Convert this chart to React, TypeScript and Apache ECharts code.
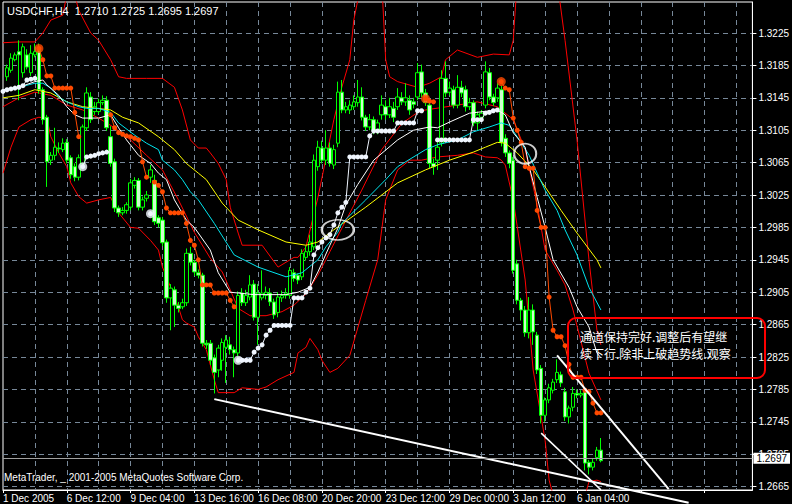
import React, { useEffect, useRef } from "react";
import * as echarts from "echarts";

// ---------- data ----------
const symbolName = "USDCHF";
const periodName = "H4";
const tickLabels = [
  "1 Dec 2005", "6 Dec 12:00", "9 Dec 04:00", "13 Dec 16:00", "16 Dec 08:00",
  "20 Dec 20:00", "23 Dec 12:00", "29 Dec 00:00", "3 Jan 12:00", "6 Jan 04:00",
];
const barsPerLabel = 16;
const slotCount = 189;
const firstBar = 1;
const priceTicks = [
  1.2665, 1.2705, 1.2745, 1.2785, 1.2825, 1.2865, 1.2905, 1.2945,
  1.2985, 1.3025, 1.3065, 1.3105, 1.3145, 1.3185, 1.3225,
];
const priceMin = 1.26608;
const priceMax = 1.32633;

const opens = [
  1.3171,1.3179,1.3192,1.3202,1.3176,1.3198,1.3176,1.3198,1.3204,1.3155,
  1.3121,1.3068,1.3074,1.3083,1.3081,1.3090,1.3071,1.3060,1.3047,1.3064,
  1.3108,1.3146,1.3128,1.3128,1.3139,1.3142,1.3097,1.3066,1.3009,1.3003,
  1.3006,1.3010,1.3037,1.3043,1.3010,1.3021,1.3047,1.3043,1.2997,1.2994,
  1.2967,1.2898,1.2908,1.2889,1.2887,1.2892,1.2953,1.2942,1.2929,1.2926,
  1.2842,1.2842,1.2824,1.2809,1.2821,1.2837,1.2840,1.2834,1.2830,1.2904,
  1.2892,1.2899,1.2915,1.2874,1.2898,1.2901,1.2904,1.2893,1.2880,1.2898,
  1.2901,1.2901,1.2929,1.2926,1.2924,1.2948,1.2955,1.2961,1.3060,1.3083,
  1.3068,1.3083,1.3062,1.3089,1.3152,1.3130,1.3130,1.3134,1.3139,1.3146,
  1.3121,1.3109,1.3118,1.3105,1.3124,1.3134,1.3124,1.3132,1.3134,1.3145,
  1.3140,1.3142,1.3140,1.3146,1.3177,1.3151,1.3136,1.3064,1.3068,1.3089,
  1.3169,1.3152,1.3155,1.3136,1.3158,1.3155,1.3134,1.3139,1.3114,1.3121,
  1.3136,1.3176,1.3146,1.3145,1.3155,1.3095,1.3077,1.3068,1.2940,1.2895,
  1.2883,1.2855,1.2883,1.2852,1.2811,1.2753,1.2772,1.2784,1.2797,1.2803,
  1.2782,1.2751,1.2763,1.2780,1.2778,1.2782,1.2695,1.2689,1.2701,1.2710,
];
const closes = [
  1.3182,1.3194,1.3198,1.3198,1.3208,1.3183,1.3200,1.3202,1.3155,1.3118,
  1.3066,1.3074,1.3084,1.3082,1.3089,1.3068,1.3050,1.3047,1.3071,1.3109,
  1.3151,1.3118,1.3134,1.3139,1.3142,1.3108,1.3064,1.3009,1.3003,1.3006,
  1.3013,1.3040,1.3043,1.3010,1.3019,1.3025,1.3056,1.2992,1.2990,1.2966,
  1.2898,1.2910,1.2889,1.2885,1.2892,1.2953,1.2942,1.2930,1.2926,1.2842,
  1.2840,1.2821,1.2806,1.2836,1.2843,1.2846,1.2834,1.2830,1.2901,1.2892,
  1.2901,1.2914,1.2874,1.2904,1.2904,1.2905,1.2893,1.2877,1.2899,1.2901,
  1.2904,1.2932,1.2922,1.2920,1.2953,1.2955,1.2967,1.3068,1.3084,1.3068,
  1.3083,1.3064,1.3081,1.3152,1.3130,1.3134,1.3136,1.3140,1.3146,1.3121,
  1.3109,1.3118,1.3105,1.3114,1.3136,1.3124,1.3134,1.3121,1.3146,1.3140,
  1.3145,1.3130,1.3137,1.3176,1.3151,1.3139,1.3064,1.3060,1.3084,1.3169,
  1.3151,1.3157,1.3136,1.3158,1.3151,1.3134,1.3139,1.3114,1.3124,1.3126,
  1.3177,1.3146,1.3139,1.3157,1.3090,1.3077,1.3064,1.2932,1.2895,1.2883,
  1.2855,1.2883,1.2856,1.2809,1.2753,1.2772,1.2787,1.2794,1.2806,1.2793,
  1.2751,1.2762,1.2780,1.2778,1.2780,1.2694,1.2689,1.2695,1.2710,1.2697,
];
const lows = [
  1.3166,1.3176,1.3190,1.3142,1.3170,1.3180,1.3172,1.3195,1.3150,1.3112,
  1.3035,1.3062,1.3068,1.3077,1.3078,1.3064,1.3045,1.3042,1.3043,1.3060,
  1.3104,1.3114,1.3124,1.3125,1.3136,1.3104,1.3060,1.3004,1.2998,1.3000,
  1.3002,1.3006,1.3033,1.3006,1.3006,1.3017,1.3040,1.2988,1.2985,1.2962,
  1.2892,1.2858,1.2862,1.2880,1.2884,1.2888,1.2938,1.2925,1.2922,1.2838,
  1.2835,1.2815,1.2780,1.2800,1.2808,1.2793,1.2828,1.2800,1.2826,1.2888,
  1.2888,1.2895,1.2870,1.2840,1.2895,1.2896,1.2888,1.2872,1.2874,1.2893,
  1.2897,1.2897,1.2918,1.2915,1.2920,1.2944,1.2950,1.2957,1.3055,1.3064,
  1.3062,1.3060,1.3057,1.3084,1.3126,1.3126,1.3125,1.3130,1.3134,1.3117,
  1.3104,1.3105,1.3100,1.3100,1.3118,1.3118,1.3120,1.3115,1.3130,1.3136,
  1.3135,1.3124,1.3132,1.3142,1.3146,1.3135,1.3058,1.3050,1.3056,1.3085,
  1.3146,1.3148,1.3132,1.3132,1.3146,1.3128,1.3130,1.3110,1.3105,1.3117,
  1.3132,1.3142,1.3135,1.3140,1.3085,1.3072,1.3058,1.2928,1.2890,1.2870,
  1.2850,1.2848,1.2840,1.2804,1.2743,1.2745,1.2768,1.2780,1.2793,1.2788,
  1.2746,1.2743,1.2758,1.2774,1.2775,1.2685,1.2680,1.2685,1.2697,1.2695,
];
const highs = [
  1.3186,1.3200,1.3201,1.3216,1.3212,1.3205,1.3210,1.3212,1.3212,1.3158,
  1.3124,1.3078,1.3108,1.3090,1.3095,1.3094,1.3074,1.3064,1.3075,1.3112,
  1.3158,1.3152,1.3140,1.3144,1.3148,1.3147,1.3110,1.3070,1.3012,1.3010,
  1.3016,1.3045,1.3047,1.3046,1.3023,1.3030,1.3062,1.3050,1.3000,1.2998,
  1.2970,1.2915,1.2912,1.2893,1.2897,1.2959,1.2961,1.2945,1.2933,1.2929,
  1.2846,1.2846,1.2828,1.2840,1.2848,1.2852,1.2850,1.2838,1.2906,1.2910,
  1.2908,1.2926,1.2920,1.2915,1.2932,1.2912,1.2910,1.2897,1.2905,1.2907,
  1.2910,1.2936,1.2934,1.2928,1.2958,1.2962,1.2976,1.3075,1.3092,1.3092,
  1.3105,1.3090,1.3087,1.3165,1.3167,1.3140,1.3142,1.3148,1.3167,1.3158,
  1.3124,1.3125,1.3122,1.3118,1.3148,1.3142,1.3145,1.3140,1.3157,1.3152,
  1.3163,1.3148,1.3145,1.3188,1.3186,1.3156,1.3140,1.3070,1.3090,1.3179,
  1.3190,1.3165,1.3160,1.3173,1.3166,1.3160,1.3145,1.3142,1.3128,1.3130,
  1.3190,1.3182,1.3150,1.3163,1.3160,1.3100,1.3080,1.3072,1.2945,1.2898,
  1.2888,1.2899,1.2890,1.2856,1.2815,1.2775,1.2792,1.2798,1.2822,1.2807,
  1.2787,1.2765,1.2788,1.2785,1.2784,1.2786,1.2698,1.2700,1.2714,1.2725,
];

// moving averages  [bar, price]
const maWhite = [[0,1.3155],[4,1.3158],[8,1.3165],[10,1.3167],[11,1.3161],[14,1.3148],[16,1.3134],[18,1.3124],[20,1.3120],[24,1.3120],[27,1.3124],[29,1.3108],[31,1.3093],[34,1.3074],[37,1.3064],[39,1.3052],[41,1.3044],[43,1.3019],[46,1.2994],[48,1.2985],[52,1.2957],[54,1.2929],[57,1.2905],[59,1.2904],[63,1.2902],[71,1.2902],[74,1.2905],[77,1.2911],[79,1.2930],[82,1.2963],[84,1.2984],[86,1.3013],[89,1.3038],[93,1.3068],[99,1.3093],[103,1.3105],[107,1.3109],[109,1.3108],[112,1.3115],[117,1.3126],[124,1.3130],[126,1.3124],[128,1.3102],[131,1.3084],[132,1.3060],[134,1.3022],[136,1.2985],[138,1.2945],[142,1.2911],[144,1.2887],[147,1.2862],[149,1.2830],[150,1.2824]];
const maCyan = [[0,1.3155],[4,1.3158],[8,1.3163],[10,1.3163],[12,1.3157],[14,1.3146],[16,1.3140],[19,1.3134],[21,1.3132],[24,1.3132],[27,1.3127],[29,1.3114],[33,1.3099],[36,1.3089],[39,1.3081],[40,1.3068],[43,1.3056],[45,1.3044],[47,1.3029],[49,1.3019],[53,1.2990],[58,1.2951],[64,1.2936],[71,1.2924],[75,1.2929],[79,1.2945],[81,1.2961],[84,1.2979],[85,1.2990],[91,1.3019],[96,1.3044],[99,1.3060],[106,1.3081],[109,1.3087],[114,1.3093],[118,1.3103],[122,1.3109],[125,1.3114],[127,1.3111],[129,1.3097],[132,1.3074],[134,1.3052],[136,1.3031],[139,1.3006],[141,1.2982],[144,1.2951],[147,1.2911],[150,1.2883]];
const maYellow = [[0,1.3145],[4,1.3148],[8,1.3155],[12,1.3151],[16,1.3140],[20,1.3134],[27,1.3130],[30,1.3121],[34,1.3114],[39,1.3097],[43,1.3081],[46,1.3064],[49,1.3052],[51,1.3044],[55,1.3015],[59,1.2994],[64,1.2982],[71,1.2967],[76,1.2963],[79,1.2967],[83,1.2982],[91,1.3010],[99,1.3040],[106,1.3056],[112,1.3068],[118,1.3078],[121,1.3084],[124,1.3090],[126,1.3089],[129,1.3077],[133,1.3056],[136,1.3035],[140,1.3006],[144,1.2978],[149,1.2945],[150,1.2935]];

// bollinger bands
const bbUpper = [[0,1.3213],[4,1.3214],[8,1.3214],[10,1.3225],[12,1.3241],[15,1.3247],[16,1.3272],[18,1.3272],[19,1.3253],[22,1.3225],[24,1.3216],[27,1.3192],[29,1.3171],[31,1.3169],[36,1.3169],[40,1.3169],[43,1.3158],[45,1.3130],[47,1.3093],[49,1.3083],[51,1.3083],[52,1.3077],[54,1.3064],[56,1.3044],[57,1.3010],[59,1.2978],[60,1.2963],[65,1.2963],[69,1.2936],[73,1.2948],[74,1.2948],[76,1.2961],[79,1.3022],[83,1.3118],[85,1.3158],[87,1.3192],[88,1.3241],[90,1.3290],[95,1.3290],[96,1.3192],[97,1.3171],[99,1.3165],[104,1.3158],[107,1.3163],[110,1.3171],[111,1.3192],[114,1.3204],[119,1.3195],[123,1.3199],[127,1.3198],[128,1.3216],[129,1.3290],[139,1.3290],[141,1.3216],[144,1.3093],[147,1.2945],[149,1.2858],[150,1.2840]];
const bbMiddle = [[0,1.3134],[4,1.3145],[8,1.3152],[12,1.3148],[16,1.3136],[20,1.3130],[24,1.3120],[28,1.3108],[32,1.3093],[36,1.3074],[40,1.3056],[44,1.3019],[48,1.2979],[52,1.2947],[55,1.2930],[57,1.2908],[59,1.2885],[62,1.2876],[66,1.2876],[70,1.2881],[73,1.2889],[76,1.2903],[79,1.2926],[82,1.2955],[85,1.2984],[90,1.3031],[95,1.3081],[100,1.3113],[104,1.3127],[106,1.3130],[114,1.3136],[119,1.3140],[124,1.3134],[128,1.3118],[131,1.3081],[134,1.3013],[136,1.2957],[139,1.2932],[141,1.2914],[143,1.2883],[147,1.2805],[150,1.2772]];
const bbLower = [[0,1.3052],[2,1.3084],[4,1.3109],[7,1.3118],[9,1.3121],[11,1.3120],[12,1.3097],[14,1.3077],[16,1.3060],[17,1.3040],[19,1.3023],[21,1.3015],[24,1.3019],[27,1.3022],[29,1.3003],[32,1.2985],[34,1.2984],[37,1.2969],[39,1.2957],[40,1.2936],[41,1.2924],[44,1.2887],[45,1.2871],[46,1.2867],[48,1.2862],[49,1.2850],[51,1.2834],[53,1.2797],[54,1.2781],[58,1.2781],[60,1.2787],[64,1.2785],[66,1.2788],[69,1.2797],[73,1.2806],[74,1.2830],[76,1.2837],[77,1.2848],[79,1.2834],[80,1.2821],[82,1.2806],[84,1.2811],[87,1.2827],[91,1.2895],[94,1.2945],[96,1.3019],[99,1.3056],[102,1.3068],[105,1.3068],[109,1.3072],[114,1.3074],[118,1.3077],[121,1.3072],[124,1.3071],[125,1.3068],[126,1.3062],[128,1.3019],[131,1.2920],[133,1.2809],[136,1.2722],[137,1.2673],[139,1.2636],[145,1.2636],[147,1.2671],[149,1.2673],[150,1.2671]];

// trailing-stop dots: segments start at a bar, one value per bar
const stopWhite = [
  { from: 0, values: [1.3153,1.3155,1.3156,1.3157,1.3158,1.3160,1.3167,1.3168,1.3169] },
  { from: 20, values: [1.3060,1.3072,1.3073,1.3074,1.3076,1.3077,1.3078] },
  { from: 37, values: [1.3002] },
  { from: 59, values: [1.2821,1.2821,1.2821,1.2821,1.2831,1.2836,1.2840,1.2852,1.2858,1.2864,1.2864,1.2864,1.2864,1.2864,1.2898,1.2898,1.2898,1.2905,1.2910,1.2951,1.2960,1.2967,1.2972,1.2976,1.2988,1.3003,1.3010,1.3016,1.3072,1.3072,1.3072,1.3072,1.3072,1.3098,1.3104,1.3104,1.3104,1.3104,1.3104,1.3104,1.3114,1.3114,1.3114,1.3114,1.3114,1.3129,1.3129] },
  { from: 109, values: [1.3093,1.3093,1.3093,1.3093,1.3093,1.3093,1.3093,1.3093,1.3093,1.3118,1.3118,1.3118,1.3126,1.3127,1.3129,1.3130] },
];
const stopOrange = [
  { from: 9, values: [1.3206,1.3192,1.3172,1.3172,1.3157,1.3157,1.3157,1.3157,1.3157,1.3127,1.3097] },
  { from: 27, values: [1.3124,1.3108,1.3102,1.3100,1.3098,1.3097,1.3095,1.3093,1.3066,1.3047] },
  { from: 38, values: [1.3041,1.3037,1.3029,1.3009,1.3003,1.3003,1.3003,1.3003,1.2990,1.2969,1.2963,1.2945,1.2914,1.2914,1.2914,1.2904,1.2904,1.2904,1.2904,1.2895,1.2887] },
  { from: 106, values: [1.3144,1.3141,1.3140] },
  { from: 125, values: [1.3165,1.3157,1.3155,1.3120,1.3105,1.3090,1.3060,1.3058,1.3058,1.3006,1.2985,1.2985,1.2899,1.2858,1.2850,1.2850,1.2839,1.2816,1.2800,1.2800,1.2800,1.2784,1.2782,1.2768,1.2756,1.2756] },
];
const stopReversalBars = [9, 20, 37, 59, 106, 125];

// hand-drawn trend lines [bar, price]
const trendLines = [
  [[53, 1.2773], [172, 1.2645]],
  [[135, 1.2731], [150, 1.2661]],
  [[139, 1.2827], [167, 1.2662]],
];
const circleMarks = [
  { at: [84, 1.2982], size: [32, 20] },
  { at: [131, 1.3076], size: [22, 20] },
];
const noteLines = ["通道保持完好.调整后有望继", "续下行.除非上破趋势线.观察"];
const copyright = "MetaTrader, _ 2001-2005 MetaQuotes Software Corp.";

// ---------- chart ----------
const FONT = "'Liberation Sans', Arial, sans-serif";
const GRID_DASH = [5, 4];
const GRID_COLOR = "#778899";
const WHITE_DOT = "#f0f6ff";
const ORANGE_DOT = "#ff4a00";

function buildOption() {
  const categories = Array.from({ length: slotCount }, (_, i) =>
    i % barsPerLabel === 0 && tickLabels[i / barsPerLabel] ? tickLabels[i / barsPerLabel] : ""
  );
  const candles = opens.map((o, i) => [i + firstBar, o, closes[i], lows[i], highs[i]]);
  const last = opens.length - 1;
  const lastPrice = closes[last];

  const lineSeries = (data: number[][], color: string, width = 1, z = 3) => ({
    type: "line",
    data,
    showSymbol: false,
    symbol: "none",
    lineStyle: { color, width },
    itemStyle: { color },
    z,
    silent: true,
  });

  const stopSeries = (segs: { from: number; values: number[] }[], color: string, size: number) =>
    segs.map((s) => ({
      type: "line",
      data: s.values.map((v, k) => [s.from + k, v]),
      showSymbol: true,
      showAllSymbol: true,
      symbol: "circle",
      symbolSize: size,
      lineStyle: { color, width: 1 },
      itemStyle: { color },
      z: 5,
      silent: true,
    }));

  const valueAt = (segs: { from: number; values: number[] }[], bar: number) => {
    for (const s of segs) if (bar >= s.from && bar < s.from + s.values.length) return s.values[bar - s.from];
    return null;
  };
  const bigWhite: number[][] = [];
  const bigOrange: number[][] = [];
  stopReversalBars.forEach((b) => {
    const o = valueAt(stopOrange, b);
    const w = valueAt(stopWhite, b);
    if (o != null) bigOrange.push([b, o]);
    else if (w != null) bigWhite.push([b, w]);
  });

  return {
    animation: false,
    backgroundColor: "#000000",
    grid: { left: 3, right: 36, top: 2, bottom: 14, show: true, borderColor: "#ffffff", borderWidth: 1 },
    xAxis: {
      type: "category",
      data: categories,
      boundaryGap: false,
      axisLine: { show: true, lineStyle: { color: "#ffffff" } },
      axisTick: { show: true, interval: (i: number) => i % barsPerLabel === 0, length: 3, lineStyle: { color: "#ffffff" } },
      axisLabel: {
        interval: (i: number) => i % barsPerLabel === 0,
        color: "#ffffff",
        fontSize: 10,
        fontFamily: FONT,
        align: "left",
        margin: 3,
      },
      splitLine: {
        show: true,
        interval: (i: number) => i % 8 === 0 && i > 0,
        lineStyle: { color: GRID_COLOR, type: GRID_DASH, width: 1 },
      },
    },
    yAxis: {
      type: "value",
      position: "right",
      min: priceMin,
      max: priceMax,
      axisLine: { show: true, lineStyle: { color: "#ffffff" } },
      axisTick: { show: true, customValues: priceTicks, length: 4, lineStyle: { color: "#ffffff" } },
      axisLabel: {
        customValues: priceTicks,
        formatter: (v: number) => v.toFixed(4),
        color: "#ffffff",
        fontSize: 10,
        fontFamily: FONT,
        margin: 6,
      },
      splitLine: { show: true, lineStyle: { color: GRID_COLOR, type: GRID_DASH, width: 1 } },
    },
    graphic: [
      {
        type: "text",
        left: 7,
        top: 5,
        style: {
          text: `${symbolName},${periodName}  ${opens[last].toFixed(4)} ${highs[last].toFixed(4)} ${lows[last].toFixed(4)} ${closes[last].toFixed(4)}`,
          fill: "#ffffff",
          font: `11px ${FONT}`,
        },
        z: 20,
      },
      {
        type: "text",
        left: 4,
        top: 472,
        style: { text: copyright, fill: "#ffffff", font: `10px ${FONT}` },
        z: 20,
      },
      {
        type: "rect",
        shape: { x: 568, y: 318, width: 197, height: 60, r: 8 },
        style: { fill: "none", stroke: "#ff0000", lineWidth: 2 },
        z: 20,
      },
      {
        type: "text",
        left: 580,
        top: 330,
        style: { text: noteLines[0], fill: "#ffffff", font: `12px 'Noto Sans CJK SC', sans-serif` },
        z: 21,
      },
      {
        type: "text",
        left: 580,
        top: 347,
        style: { text: noteLines[1], fill: "#ffffff", font: `12px 'Noto Sans CJK SC', sans-serif` },
        z: 21,
      },
    ],
    series: [
      lineSeries(bbUpper, "#ff0000", 1, 2),
      lineSeries(bbMiddle, "#ff0000", 1, 2),
      lineSeries(bbLower, "#ff0000", 1, 2),
      {
        type: "candlestick",
        data: candles,
        encode: { x: 0, y: [1, 2, 3, 4] },
        barWidth: 4,
        itemStyle: {
          color: "#000000",
          color0: "#ccffcc",
          borderColor: "#00ff00",
          borderColor0: "#00ff00",
          borderWidth: 1,
        },
        z: 3,
        silent: true,
        markLine: {
          silent: true,
          symbol: ["none", "none"],
          data: [{ yAxis: lastPrice }],
          lineStyle: { color: "#a0a0a0", type: "solid", width: 1 },
          label: {
            show: true,
            position: "end",
            formatter: lastPrice.toFixed(4),
            color: "#000000",
            backgroundColor: "#ffffff",
            padding: [1, 3, 0, 3],
            fontSize: 10,
            fontFamily: FONT,
            distance: 1,
          },
          z: 10,
        },
      },
      lineSeries(maYellow, "#ffff00", 1, 4),
      lineSeries(maCyan, "#00e5ee", 1, 4),
      lineSeries(maWhite, "#ffffff", 1, 4),
      ...stopSeries(stopWhite, WHITE_DOT, 5),
      ...stopSeries(stopOrange, ORANGE_DOT, 5),
      { type: "scatter", data: bigWhite, symbolSize: 9, itemStyle: { color: WHITE_DOT }, z: 6, silent: true },
      { type: "scatter", data: bigOrange, symbolSize: 9, itemStyle: { color: ORANGE_DOT }, z: 6, silent: true },
      ...trendLines.map((t, k) => ({
        type: "line",
        data: t,
        showSymbol: false,
        symbol: "none",
        clip: false,
        lineStyle: { color: "#ffffff", width: k === 1 ? 1.5 : 2 },
        z: 8,
        silent: true,
      })),
      {
        type: "scatter",
        data: circleMarks.map((c) => ({ value: c.at, symbolSize: c.size })),
        symbol: "circle",
        itemStyle: { color: "rgba(0,0,0,0)", borderColor: "#ffffff", borderWidth: 2 },
        z: 9,
        silent: true,
      },
    ],
  };
}

export default function App() {
  const ref = useRef<HTMLDivElement>(null);
  useEffect(() => {
    if (!ref.current) return;
    const chart = echarts.init(ref.current, null, { renderer: "svg", width: 792, height: 504 });
    chart.setOption(buildOption() as any);
    return () => chart.dispose();
  }, []);
  return (
    <div
      ref={ref}
      style={{ position: "fixed", left: 0, top: 0, width: 792, height: 504, background: "#000" }}
    />
  );
}
